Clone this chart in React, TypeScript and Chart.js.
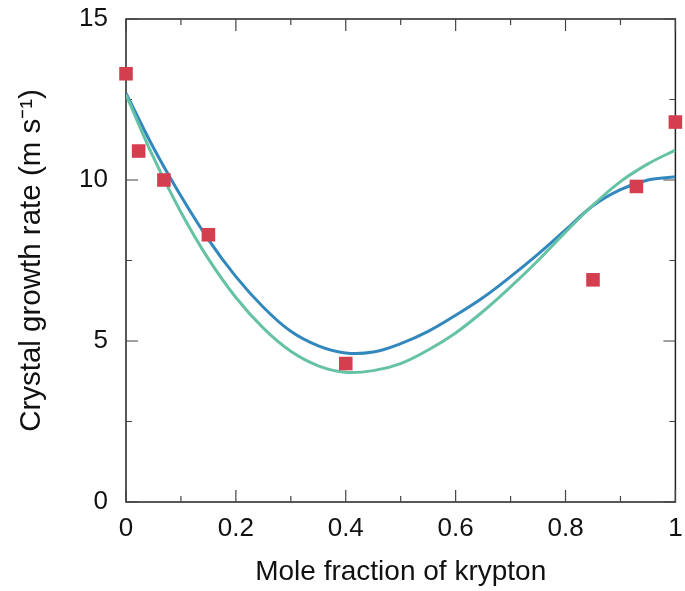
import React, { useEffect, useRef } from "react";
import { Chart, registerables } from "chart.js";

Chart.register(...registerables);

// Fitted curves, sampled along mole fraction
const curveX = [0, 0.05, 0.1, 0.15, 0.2, 0.25, 0.3, 0.35, 0.4, 0.45, 0.5, 0.55, 0.6, 0.65, 0.7, 0.75, 0.8, 0.85, 0.9, 0.95, 1.0];
const fitBlue = [12.7, 11.0, 9.5, 8.15, 7.0, 6.05, 5.3, 4.85, 4.63, 4.66, 4.92, 5.3, 5.8, 6.35, 7.0, 7.7, 8.45, 9.2, 9.7, 10.0, 10.1];
const fitGreen = [12.65, 10.7, 9.0, 7.55, 6.35, 5.4, 4.68, 4.23, 4.03, 4.08, 4.3, 4.72, 5.25, 5.92, 6.68, 7.5, 8.38, 9.22, 9.95, 10.5, 10.93];

// Measured growth rates
const obsX = [0, 0.023, 0.069, 0.15, 0.4, 0.85, 0.929, 1.0];
const obsY = [13.3, 10.9, 10.0, 8.3, 4.3, 6.9, 9.8, 11.8];

// Axis ticks
const xMajorTicks = [0, 0.2, 0.4, 0.6, 0.8, 1];
const xMinorTicks = [0.1, 0.3, 0.5, 0.7, 0.9];
const yMajorTicks = [0, 5, 10, 15];
const yMinorTicks = [2.5, 7.5, 12.5];

const xTitle = "Mole fraction of krypton";
const yTitle = "Crystal growth rate (m s\u207B\u00B9)";

const FONT = "'Liberation Sans', Arial, Helvetica, sans-serif";

const framePlugin = {
  id: "frameTicks",
  beforeDatasetsDraw(chart: any) {
    const { ctx, chartArea } = chart;
    const xs = chart.scales.x;
    const ys = chart.scales.y;
    const { left, right, top, bottom } = chartArea;
    ctx.save();
    ctx.strokeStyle = "#222";
    ctx.lineWidth = 1.5;
    ctx.strokeRect(left, top, right - left, bottom - top);
    ctx.lineWidth = 1.2;
    ctx.strokeStyle = "#444";
    const drawX = (v: number, len: number) => {
      const px = xs.getPixelForValue(v);
      ctx.beginPath();
      ctx.moveTo(px, bottom);
      ctx.lineTo(px, bottom - len);
      ctx.moveTo(px, top);
      ctx.lineTo(px, top + len);
      ctx.stroke();
    };
    const drawY = (v: number, len: number) => {
      const py = ys.getPixelForValue(v);
      ctx.beginPath();
      ctx.moveTo(left, py);
      ctx.lineTo(left + len, py);
      ctx.moveTo(right, py);
      ctx.lineTo(right - len, py);
      ctx.stroke();
    };
    xMajorTicks.forEach((v) => drawX(v, 12));
    xMinorTicks.forEach((v) => drawX(v, 6));
    yMajorTicks.forEach((v) => drawY(v, 12));
    yMinorTicks.forEach((v) => drawY(v, 6));
    ctx.restore();
  },
};

export default function App() {
  const ref = useRef<HTMLCanvasElement | null>(null);

  useEffect(() => {
    document.body.style.margin = "0";
    const canvas = ref.current;
    if (!canvas) return;
    const chart = new Chart(canvas, {
      type: "line",
      data: {
        datasets: [
          {
            type: "scatter",
            label: "Measured",
            data: obsX.map((x, i) => ({ x, y: obsY[i] })),
            pointStyle: "rect",
            pointRadius: 9.6,
            pointHoverRadius: 9.6,
            backgroundColor: "#d53e4f",
            borderColor: "#d53e4f",
            borderWidth: 0,
            clip: false,
          } as any,
          {
            type: "line",
            label: "Fit 2",
            data: curveX.map((x, i) => ({ x, y: fitGreen[i] })),
            borderColor: "#66c2a5",
            borderWidth: 3,
            pointRadius: 0,
            tension: 0.4,
            fill: false,
          } as any,
          {
            type: "line",
            label: "Fit 1",
            data: curveX.map((x, i) => ({ x, y: fitBlue[i] })),
            borderColor: "#3288bd",
            borderWidth: 3,
            pointRadius: 0,
            tension: 0.4,
            fill: false,
          } as any,
        ],
      },
      options: {
        responsive: false,
        animation: false,
        layout: { padding: { top: 19, right: 6, left: 0, bottom: 0 } },
        plugins: {
          legend: { display: false },
          tooltip: { enabled: false },
        },
        scales: {
          x: {
            type: "linear",
            min: 0,
            max: 1,
            grid: { display: false, drawTicks: false },
            border: { display: false },
            ticks: {
              stepSize: 0.2,
              padding: 11,
              color: "#111",
              font: { family: FONT, size: 26 },
              maxRotation: 0,
              autoSkip: false,
              callback: (v: any) => String(Number(Number(v).toFixed(1))),
            },
            title: {
              display: true,
              text: xTitle,
              color: "#111",
              font: { family: FONT, size: 28 },
              padding: { top: 4, bottom: 2 },
            },
            afterFit(scale: any) {
              scale.height = 89;
              scale.paddingLeft = 0;
              scale.paddingRight = 0;
            },
          },
          y: {
            type: "linear",
            min: 0,
            max: 15,
            grid: { display: false, drawTicks: false },
            border: { display: false },
            ticks: {
              stepSize: 5,
              padding: 18,
              color: "#111",
              font: { family: FONT, size: 26 },
            },
            title: {
              display: true,
              text: yTitle,
              color: "#111",
              font: { family: FONT, size: 29.5 },
              padding: { top: 14, bottom: 0 },
            },
            afterFit(scale: any) {
              scale.width = 126;
              scale.paddingTop = 0;
              scale.paddingBottom = 0;
            },
          },
        },
      } as any,
      plugins: [framePlugin],
    });
    return () => chart.destroy();
  }, []);

  return (
    <canvas
      ref={ref}
      width={685}
      height={591}
      style={{ display: "block", width: 685, height: 591 }}
    />
  );
}
